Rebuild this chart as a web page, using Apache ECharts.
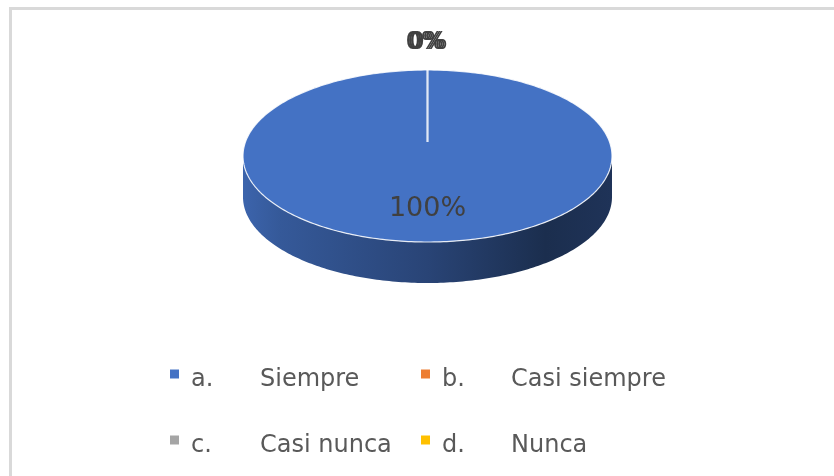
<html>
  <head>
    <meta charset="UTF-8" />
    <script src="https://cdn.jsdelivr.net/npm/echarts@6/dist/echarts.min.js"></script>
    <title>pie</title>
    <style>
      html, body { margin: 0; padding: 0; background: #fff; }
      #main { width: 834px; height: 476px; }
    </style>
  </head>
  <body>
    <div id="main"></div>
    <script>
      // datos del grafico
      const categories = ['a.', 'b.', 'c.', 'd.'];
      const names = ['Siempre', 'Casi siempre', 'Casi nunca', 'Nunca'];
      const values = [100, 0, 0, 0];
      const colors = ['#4472C4', '#ED7D31', '#A5A5A5', '#FFC000'];

      const seriesNames = categories.map((c, i) => c + ' ' + names[i]);
      const total = values.reduce((s, v) => s + v, 0);

      // elipse de la cara superior
      const cx = 427.5, cy = 156, rx = 184.5, ry = 86, depth = 41;

      function pt(deg, dy) {
        const r = deg * Math.PI / 180;
        return [cx + rx * Math.sin(r), cy - ry * Math.cos(r) + (dy || 0)];
      }
      function arc(a0, a1, dy) {
        const pts = [];
        const n = Math.max(2, Math.ceil(Math.abs(a1 - a0)));
        for (let k = 0; k <= n; k++) pts.push(pt(a0 + (a1 - a0) * k / n, dy));
        return pts;
      }
      // oscurecer un color (multiplica rgb)
      function shade(color, k) {
        const c = echarts.color.parse(color);
        return 'rgb(' + Math.round(c[0] * k) + ',' + Math.round(c[1] * k) + ',' + Math.round(c[2] * k) + ')';
      }

      function renderSlice(params, api) {
        const value = api.value(0);
        const start = api.value(1);
        const a0 = start / total * 360;
        const a1 = (start + value) / total * 360;
        const color = colors[params.seriesIndex];
        const children = [];
        const pct = Math.round(value / total * 100) + '%';

        if (value > 0) {
          // lado visible (mitad frontal)
          const s = Math.max(a0, 90), e = Math.min(a1, 270);
          if (e > s) {
            const side = arc(s, e, 0).concat(arc(e, s, depth));
            children.push({
              type: 'polygon',
              shape: { points: side },
              style: {
                fill: {
                  type: 'linear', x: 0, y: 0, x2: 1, y2: 0,
                  colorStops: [
                    { offset: 0, color: shade(color, 0.88) },
                    { offset: 0.1, color: shade(color, 0.78) },
                    { offset: 0.5, color: shade(color, 0.6) },
                    { offset: 0.82, color: shade(color, 0.4) },
                    { offset: 1, color: shade(color, 0.45) }
                  ]
                }
              }
            });
          }
          const full = a1 - a0 >= 360;
          const top = full ? arc(0, 360, 0) : [[cx, cy]].concat(arc(a0, a1, 0));
          children.push({
            type: 'polygon',
            shape: { points: top },
            style: { fill: color, stroke: 'rgba(255,255,255,0.85)', lineWidth: 1.2 }
          });
          const mid = (a0 + a1) / 2;
          const lp = [cx + 0.6 * rx * Math.sin(mid * Math.PI / 180), cy - 0.6 * ry * Math.cos(mid * Math.PI / 180)];
          children.push({
            type: 'text', x: lp[0], y: lp[1] + 1,
            style: {
              text: pct, fill: '#404040', fontSize: 27, fontFamily: 'DejaVu Sans',
              align: 'center', verticalAlign: 'middle'
            },
            z2: 10
          });
        } else {
          // porcion vacia: borde radial y etiqueta fuera
          const p = pt(a0, 0);
          children.push({
            type: 'line',
            shape: { x1: cx, y1: cy - 14, x2: p[0], y2: p[1] },
            style: { stroke: 'rgba(255,255,255,0.45)', lineWidth: 2 },
            z2: 5
          });
          const off = (params.seriesIndex - 2) * 2;
          children.push({
            type: 'text', x: p[0] + off - 1, y: p[1] - 27,
            style: {
              text: pct, fill: '#404040', fontSize: 24, fontFamily: 'DejaVu Sans',
              align: 'center', verticalAlign: 'middle'
            },
            z2: 10
          });
        }
        return { type: 'group', children: children };
      }

      let acc = 0;
      const series = values.map((v, i) => {
        const item = [v, acc];
        acc += v;
        return {
          name: seriesNames[i],
          type: 'custom',
          coordinateSystem: 'none',
          color: colors[i],
          z: 10 + i,
          renderItem: renderSlice,
          data: [item]
        };
      });

      // una leyenda por elemento, en dos filas y dos columnas
      const legendLeft = [165, 416, 165, 416];
      const legendTop = [363, 363, 429, 429];
      const legends = seriesNames.map((n, i) => ({
        data: [n],
        left: legendLeft[i],
        top: legendTop[i],
        icon: 'path://M0 0h10v10h-10z',
        itemWidth: 23,
        itemHeight: 9,
        selectedMode: false,
        formatter: function (name) {
          const k = seriesNames.indexOf(name);
          return '{a|' + categories[k] + '}{n|' + names[k] + '}';
        },
        textStyle: {
          color: '#595959',
          fontFamily: 'DejaVu Sans',
          fontSize: 24,
          rich: {
            a: { width: 69, fontSize: 24, color: '#595959', fontFamily: 'DejaVu Sans', padding: [12, 0, 0, 0] },
            n: { fontSize: 24, color: '#595959', fontFamily: 'DejaVu Sans', padding: [12, 0, 0, 0] }
          }
        }
      }));

      const chart = echarts.init(document.getElementById('main'), null, { renderer: 'canvas' });
      chart.setOption({
        animation: false,
        backgroundColor: '#fff',
        graphic: [
          { type: 'rect', shape: { x: 9, y: 7, width: 830, height: 3 }, style: { fill: '#d9d9d9' } },
          { type: 'rect', shape: { x: 9, y: 7, width: 3, height: 480 }, style: { fill: '#d9d9d9' } }
        ],
        legend: legends,
        series: series
      });
    </script>
  </body>
</html>
